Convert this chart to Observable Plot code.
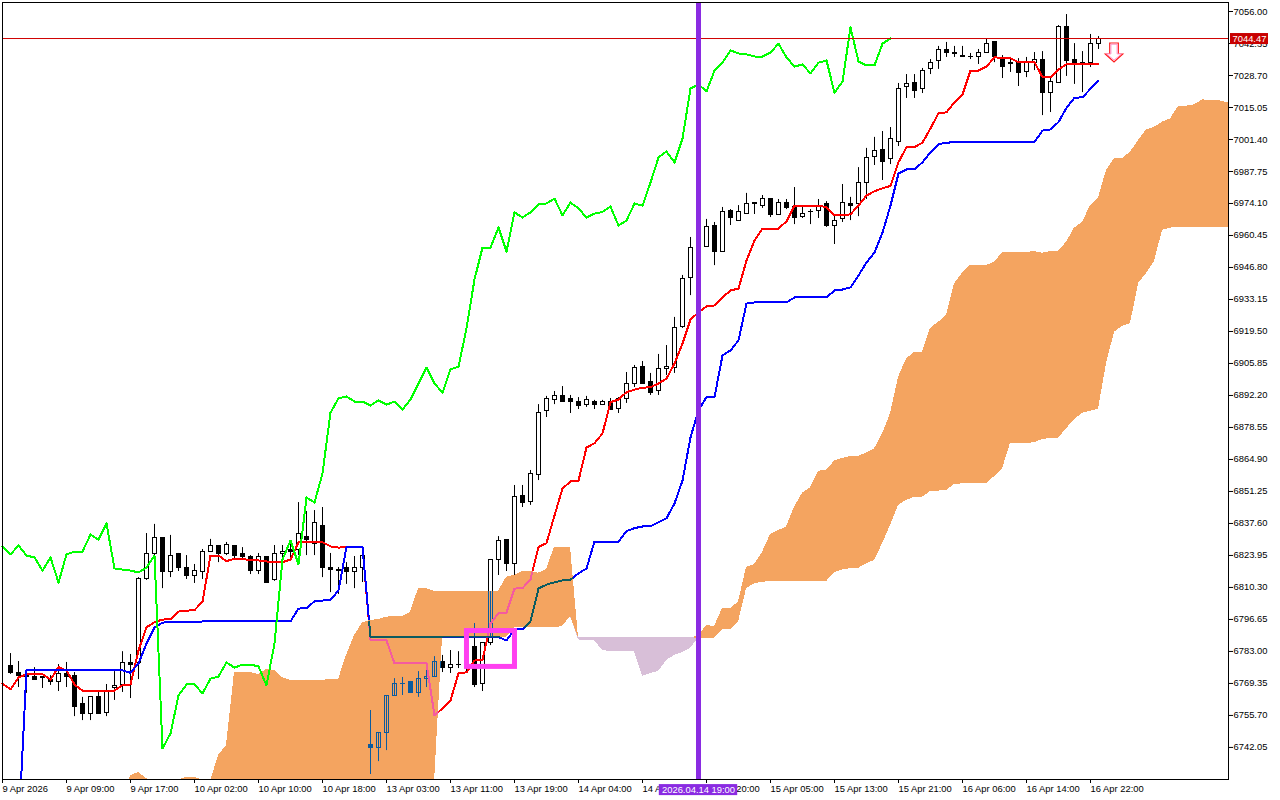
<!DOCTYPE html>
<html>
<head>
<meta charset="utf-8">
<script src="https://cdn.jsdelivr.net/npm/d3@7"></script>
<script src="https://cdn.jsdelivr.net/npm/@observablehq/plot@0.6"></script>
<style>
html,body{margin:0;padding:0;background:#fff}
svg{display:block}
</style>
</head>
<body>
<div id="chart"></div>
<script>
// Candles run from bar 1 to bar 137
const highs = [
6782.1,6778.7,6774.9,6776.1,6772.3,6772.7,6777.4,6778.3,6774.0,6763.4,
6763.4,6765.9,6768.9,6774.4,6782.9,6781.7,6814.5,6833.3,6837.2,6831.6,
6832.5,6824.8,6823.9,6820.1,6826.5,6830.8,6828.2,6829.5,6828.2,6827.3,
6823.9,6824.8,6823.5,6828.2,6828.2,6830.3,6846.5,6842.7,6843.1,6844.4,
6824.8,6818.8,6820.9,6823.5,6823.9,6757.8,6748.4,6764.2,6771.4,6771.9,
6770.2,6774.4,6777.9,6780.8,6781.3,6783.4,6782.9,6779.1,6794.9,6786.4,
6822.2,6832.0,6830.7,6853.8,6853.8,6860.2,6888.3,6891.8,6893.9,6896.0,
6892.2,6891.3,6891.8,6890.1,6890.1,6890.9,6891.3,6902.0,6905.0,6906.7,
6901.6,6909.7,6913.5,6925.5,6943.4,6959.6,6958.0,6967.3,6966.0,6972.4,
6971.5,6973.2,6978.4,6974.1,6977.5,6976.2,6975.8,6975.8,6980.9,6972.4,
6971.5,6975.8,6974.9,6969.0,6982.2,6976.7,6989.4,6997.6,7002.3,7004.8,
7006.5,7025.3,7029.1,7029.1,7031.7,7035.5,7041.1,7042.8,7041.1,7041.1,
7038.1,7039.8,7044.1,7042.8,7037.2,7036.4,7035.9,7036.4,7038.5,7038.9,
7027.8,7050.0,7054.7,7042.3,7038.9,7046.2,7045.3];
const opens = [
6777.0,6774.0,6772.7,6772.3,6771.9,6771.0,6769.8,6773.2,6772.7,6760.4,
6756.1,6763.4,6756.9,6767.2,6768.5,6777.9,6777.9,6813.7,6824.4,6831.2,
6817.1,6824.4,6818.4,6815.0,6817.1,6825.6,6827.8,6824.4,6827.8,6824.4,
6823.5,6817.5,6823.5,6813.3,6824.4,6826.1,6826.1,6832.0,6829.0,6836.7,
6818.4,6817.9,6818.4,6817.1,6818.8,6742.9,6742.0,6748.4,6764.2,6769.3,
6769.8,6765.1,6771.4,6772.3,6778.7,6776.1,6777.2,6777.4,6784.7,6769.3,
6786.4,6822.2,6830.7,6820.1,6849.1,6846.9,6858.1,6885.4,6890.1,6891.8,
6890.5,6889.6,6888.3,6889.6,6888.3,6889.2,6886.6,6890.9,6897.3,6904.5,
6898.1,6893.9,6903.7,6904.1,6921.2,6942.1,6955.1,6955.7,6964.3,6953.6,
6971.1,6966.8,6969.8,6973.7,6973.2,6975.8,6969.0,6974.5,6972.4,6968.5,
6970.3,6970.7,6973.7,6964.7,6967.3,6973.7,6973.7,6983.0,6994.1,6997.1,
6992.9,7000.5,7023.6,7025.7,7023.1,7031.3,7034.7,7039.4,7038.1,7037.2,
7036.6,7036.8,7038.5,7042.8,7035.9,7034.2,7034.2,7030.0,7034.2,7035.1,
7021.4,7025.7,7049.6,7035.1,7034.2,7034.2,7042.3];
const closes = [
6773.6,6772.7,6771.9,6771.0,6771.7,6769.8,6773.2,6771.9,6759.5,6756.1,
6763.4,6756.5,6766.3,6768.1,6777.9,6777.4,6813.7,6824.4,6831.2,6816.7,
6823.9,6818.8,6815.0,6817.5,6825.6,6827.8,6824.4,6828.2,6823.9,6823.1,
6817.5,6823.1,6812.4,6824.4,6825.6,6825.6,6832.9,6830.7,6837.6,6818.4,
6817.9,6817.5,6816.7,6818.8,6823.9,6741.6,6748.0,6764.2,6768.9,6768.9,
6765.1,6771.4,6772.3,6778.3,6776.1,6777.4,6777.4,6776.6,6768.5,6786.4,
6822.2,6830.3,6820.1,6848.7,6846.5,6858.9,6884.9,6890.9,6891.8,6889.6,
6889.6,6887.9,6890.1,6888.3,6889.6,6886.2,6890.5,6897.3,6904.1,6897.3,
6893.4,6903.3,6904.5,6920.8,6941.7,6955.3,6955.3,6963.9,6953.6,6970.3,
6968.1,6970.3,6973.7,6974.1,6976.2,6969.0,6974.5,6972.0,6968.1,6969.8,
6970.5,6972.8,6964.7,6966.8,6974.1,6973.2,6983.0,6993.7,6996.3,6991.6,
7001.8,7023.1,7024.9,7021.9,7030.8,7034.2,7039.4,7038.1,7037.7,7036.8,
7036.8,7038.5,7042.3,7036.4,7032.5,7033.4,7029.6,7034.2,7035.1,7021.4,
7026.1,7049.2,7034.7,7033.0,7033.0,7042.3,7044.47];
const lows = [
6773.2,6767.6,6765.1,6771.0,6767.2,6768.5,6765.9,6767.6,6755.2,6753.5,
6753.5,6756.5,6755.2,6762.1,6765.5,6762.9,6771.0,6813.3,6820.5,6809.8,
6814.5,6817.1,6813.7,6812.0,6813.7,6825.2,6820.9,6823.9,6822.6,6821.8,
6815.8,6815.8,6812.0,6812.9,6820.5,6821.8,6823.9,6823.9,6823.9,6814.5,
6808.1,6807.3,6811.6,6809.8,6812.4,6730.5,6736.0,6740.7,6763.8,6764.2,
6765.1,6763.4,6767.6,6771.9,6774.0,6773.6,6775.7,6774.0,6767.6,6765.9,
6785.5,6815.4,6817.1,6815.4,6844.4,6845.3,6855.9,6882.8,6888.3,6889.2,
6884.5,6886.2,6887.1,6886.2,6887.9,6885.8,6884.5,6888.8,6895.6,6896.9,
6892.2,6892.2,6900.7,6901.6,6920.8,6934.8,6953.0,6955.7,6947.6,6953.2,
6964.7,6966.8,6969.8,6969.4,6972.0,6968.1,6969.0,6971.5,6965.1,6967.7,
6965.1,6967.7,6963.9,6956.6,6966.0,6966.8,6968.5,6975.8,6990.3,6983.9,
6990.7,6998.4,7018.9,7018.9,7021.0,7029.1,7031.3,7036.4,7036.4,7036.4,
7035.5,7033.4,7038.1,7034.2,7027.4,7030.0,7024.0,7027.8,7030.8,7011.6,
7012.9,7025.3,7028.3,7024.9,7021.4,7032.1,7039.8];
// Tenkan-sen, bars 0 to 137
const tenkan = [
6769.3,6766.8,6771.9,6773.2,6773.3,6773.3,6771.0,6776.3,6774.9,6768.9,
6766.3,6766.3,6766.3,6766.3,6766.3,6768.6,6768.9,6783.4,6793.3,6795.5,
6796.6,6796.7,6800.0,6800.4,6800.6,6804.3,6823.9,6823.9,6821.5,6822.6,
6822.6,6821.8,6821.8,6821.4,6821.1,6821.1,6822.2,6829.5,6829.6,6829.6,
6829.6,6827.8,6827.3,6827.5,6827.5,6827.5,6788.0,6787.9,6787.7,6777.9,
6777.9,6777.9,6777.9,6777.9,6755.7,6758.7,6762.1,6773.7,6774.1,6779.1,
6779.4,6794.9,6799.3,6799.6,6809.8,6810.0,6813.7,6827.5,6829.2,6841.0,
6852.5,6855.5,6855.9,6870.0,6871.8,6876.0,6889.3,6890.5,6893.6,6894.7,
6895.5,6895.7,6897.3,6899.4,6905.8,6914.4,6924.6,6927.7,6930.2,6930.6,
6934.0,6937.0,6937.8,6949.8,6958.3,6963.4,6963.4,6963.4,6966.5,6973.2,
6973.2,6973.2,6973.2,6972.5,6969.0,6969.0,6969.5,6973.2,6977.5,6979.3,
6980.6,6981.6,6991.7,6998.1,6998.1,7000.1,7006.1,7012.6,7013.0,7017.3,
7020.6,7030.8,7030.8,7032.5,7036.5,7036.1,7036.1,7034.4,7034.4,7034.4,
7028.0,7028.0,7031.3,7033.5,7033.5,7033.5,7033.5,7033.5];
// Kijun-sen, bars 0 to 137
const kijun = [
null,null,6705.8,6774.9,6774.9,6774.9,6774.9,6774.9,6774.9,6774.9,
6774.9,6774.9,6774.9,6774.9,6774.9,6774.9,6773.9,6777.9,6786.4,6793.3,
6795.3,6795.5,6795.5,6795.5,6795.5,6795.8,6795.8,6795.8,6795.8,6795.8,
6795.8,6795.8,6795.8,6795.8,6795.8,6795.8,6795.8,6801.3,6801.4,6804.4,
6804.7,6805.0,6809.0,6827.5,6827.5,6827.5,6789.1,6789.1,6789.1,6789.1,
6789.1,6789.1,6789.1,6789.1,6789.1,6789.1,6789.1,6789.1,6789.1,6789.1,
6789.1,6789.1,6789.1,6787.7,6792.4,6792.4,6795.8,6809.8,6811.5,6812.5,
6813.3,6813.6,6816.3,6818.4,6829.9,6829.9,6829.9,6829.9,6834.3,6835.6,
6836.3,6836.4,6838.1,6839.8,6846.1,6855.9,6874.3,6885.8,6891.5,6891.5,
6909.3,6911.4,6915.7,6931.4,6931.9,6931.9,6931.9,6931.9,6931.9,6934.0,
6934.0,6934.0,6934.0,6934.0,6937.0,6937.4,6938.3,6943.4,6948.9,6953.2,
6961.7,6973.2,6986.9,6988.6,6988.7,6991.7,6996.0,6999.4,7000.0,7000.3,
7000.3,7000.3,7000.3,7000.3,7000.3,7000.3,7000.3,7000.3,7000.3,7000.3,
7005.2,7005.7,7008.8,7014.9,7019.2,7019.4,7023.0,7026.4];
// Senkou spans, bars 0 to 154
const senkouA = [
6719.4,6719.4,6719.4,6719.4,6719.4,6719.4,6719.4,6719.4,6719.4,6719.4,
6719.4,6719.4,6719.4,6719.4,6719.4,6719.4,6730.0,6731.4,6728.8,6726.7,
6726.7,6726.7,6728.2,6729.2,6729.2,6728.2,6727.5,6738.6,6742.9,6774.0,
6774.0,6774.0,6773.2,6775.3,6774.9,6771.9,6770.6,6770.6,6770.6,6770.6,
6770.6,6771.2,6771.0,6781.3,6789.8,6795.1,6796.2,6796.6,6797.6,6797.9,
6798.0,6799.7,6809.8,6809.8,6808.7,6808.6,6808.6,6808.6,6808.6,6808.6,
6808.6,6808.6,6808.6,6814.7,6815.4,6817.2,6817.2,6816.4,6817.9,6827.5,
6827.5,6827.5,6787.9,6787.7,6787.7,6783.4,6783.0,6783.0,6783.0,6783.0,
6772.3,6773.6,6774.4,6779.1,6781.3,6782.5,6784.3,6789.4,6794.1,6793.6,
6801.3,6801.3,6804.0,6818.8,6820.1,6825.3,6832.9,6834.6,6836.0,6844.5,
6850.5,6852.8,6859.9,6860.2,6864.2,6865.3,6866.2,6866.2,6867.6,6869.4,
6875.8,6884.4,6899.9,6907.8,6910.6,6910.6,6920.8,6923.4,6926.3,6939.8,
6944.4,6947.7,6947.7,6947.7,6949.0,6953.2,6953.2,6953.2,6953.2,6953.6,
6952.9,6953.6,6953.6,6957.6,6963.6,6966.0,6973.2,6976.5,6988.2,6993.3,
6993.3,6996.0,7000.9,7005.5,7006.6,7008.8,7010.2,7015.5,7015.6,7016.2,
7018.3,7018.0,7018.0,7017.2,7016.8];
const senkouB = [
6715.2,6715.2,6715.2,6715.2,6715.2,6715.2,6715.2,6715.2,6715.2,6715.2,
6715.2,6715.2,6715.2,6715.2,6715.2,6715.2,6715.2,6715.2,6715.2,6715.2,
6715.2,6715.2,6715.2,6715.2,6715.2,6715.2,6715.2,6715.2,6715.2,6715.2,
6715.2,6715.2,6715.2,6715.2,6715.2,6715.2,6715.2,6715.2,6715.2,6715.2,
6715.2,6715.2,6715.2,6715.2,6715.2,6715.2,6715.2,6715.2,6715.2,6715.2,
6715.2,6715.2,6715.2,6715.2,6727.1,6788.9,6788.9,6788.9,6788.9,6788.9,
6788.9,6788.9,6788.9,6788.9,6793.2,6793.2,6793.2,6793.2,6793.2,6793.2,
6793.6,6797.9,6788.9,6788.9,6788.9,6788.9,6788.9,6788.9,6788.9,6788.9,
6788.9,6788.9,6788.9,6788.9,6788.9,6788.9,6788.9,6788.6,6788.6,6788.6,
6792.2,6792.2,6795.5,6809.7,6811.9,6812.5,6812.8,6812.8,6812.8,6812.8,
6812.8,6812.8,6812.8,6812.8,6816.5,6817.8,6818.3,6818.4,6820.4,6821.8,
6828.9,6836.7,6845.3,6847.4,6848.8,6848.8,6851.2,6851.4,6851.7,6854.2,
6854.5,6854.5,6854.5,6854.5,6857.6,6860.9,6871.8,6871.8,6871.8,6872.0,
6873.4,6873.9,6873.9,6878.0,6881.9,6884.6,6885.5,6886.3,6905.7,6919.2,
6921.7,6922.9,6939.9,6944.2,6949.4,6962.6,6963.6,6964.0,6964.0,6964.0,
6964.0,6964.0,6964.0,6964.0,6964.0];
const priceTicks = [7056.00,7042.35,7028.70,7015.05,7001.40,6987.75,6974.10,6960.45,6946.80,6933.15,6919.50,6905.85,6892.20,6878.55,6864.90,6851.25,6837.60,6823.95,6810.30,6796.65,6783.00,6769.35,6755.70,6742.05];
const timeLabels = ["9 Apr 2026","9 Apr 09:00","9 Apr 17:00","10 Apr 02:00","10 Apr 10:00","10 Apr 18:00","13 Apr 03:00","13 Apr 11:00","13 Apr 19:00","14 Apr 04:00","14 Apr 12:00","14 Apr 20:00","15 Apr 05:00","15 Apr 13:00","15 Apr 21:00","16 Apr 06:00","16 Apr 14:00","16 Apr 22:00"];
const lastPrice = 7044.47;
const markerBar = 87;
const markerText = "2026.04.14 19:00";

const FONT = "'Liberation Sans', Arial, sans-serif";
const candles = highs.map((h,i)=>({k:i+1,high:h,open:opens[i],close:closes[i],low:lows[i]}));
const isUp = d=>d.close>=d.open;
const tenkanRows = tenkan.map((v,k)=>({k,v}));
const kijunRows = kijun.map((v,k)=>({k,v})).filter(d=>d.v!=null);
// The lagging span is the close plotted 26 bars back
const chikouRows = closes.slice(25).map((v,k)=>({k,v}));
const cloud = senkouA.map((a,k)=>({k,a,b:senkouB[k]}));
const tickBars = timeLabels.map((_,i)=>i*8);

const W = 2;
const bw = 0.25;
function candleMarks(stroke, upFill, downFill){
  return [
    Plot.ruleX(candles,{x:"k",y1:"low",y2:"high",stroke,strokeWidth:1}),
    Plot.rect(candles,{filter:isUp,x1:d=>d.k-bw,x2:d=>d.k+bw,y1:"open",y2:"close",fill:upFill,stroke,strokeWidth:1,dx:0.5,shapeRendering:"crispEdges"}),
    Plot.rect(candles,{filter:d=>!isUp(d),x1:d=>d.k-bw,x2:d=>d.k+bw,y1:"open",y2:"close",fill:downFill,stroke,strokeWidth:1,dx:0.5,shapeRendering:"crispEdges"})
  ];
}
const arrowShape = inset => ({draw(c){
  const w=4.3-inset, h=8.7-inset, hy=1.5-inset*0.1, top=-9.5+inset, tip=9.5-inset*1.6;
  c.moveTo(-w,top);c.lineTo(w,top);c.lineTo(w,hy);c.lineTo(h,hy);c.lineTo(0,tip);c.lineTo(-h,hy);c.lineTo(-w,hy);c.closePath();
}});

const underCloud = [
  ...candleMarks("black","white","black"),
  Plot.line(tenkanRows,{x:"k",y:"v",stroke:"#ff0000",strokeWidth:W,shapeRendering:"crispEdges"}),
  Plot.line(kijunRows,{x:"k",y:"v",stroke:"#0000ff",strokeWidth:W,clip:true,shapeRendering:"crispEdges"}),
  Plot.areaY(cloud,{x:"k",y1:"b",y2:d=>Math.max(d.a,d.b),fill:"#F4A460",clip:true,shapeRendering:"crispEdges"}),
  Plot.areaY(cloud,{x:"k",y1:"b",y2:d=>Math.min(d.a,d.b),fill:"#D8BFD8",clip:true,shapeRendering:"crispEdges"})
];
const insideCloud = [
  ...candleMarks("#0B5B9F","none","#0B5B9F"),
  Plot.line(tenkanRows,{x:"k",y:"v",stroke:"#F45B9F",strokeWidth:W,shapeRendering:"crispEdges"}),
  Plot.line(kijunRows,{x:"k",y:"v",stroke:"#0B5B60",strokeWidth:W,shapeRendering:"crispEdges"})
];

const plot = Plot.plot({
  width:1280,height:800,
  marginTop:2,marginBottom:21,marginLeft:2,marginRight:52,
  x:{type:"linear",domain:[0,153.25]},
  y:{type:"linear",domain:[6728.37,7059.84]},
  style:{fontFamily:FONT,fontSize:"9.4px",background:"white",color:"black"},
  marks:[
    ...underCloud,
    ...insideCloud,
    Plot.line(chikouRows,{x:"k",y:"v",stroke:"#00ff00",strokeWidth:W,shapeRendering:"crispEdges"}),
    Plot.rect([0],{x1:58.06,x2:64.06,y1:6776.4,y2:6791.7,stroke:"#ff40f0",strokeWidth:5,fill:"none"}),
    Plot.dot([0],{x:138.94,y:7038.5,symbol:arrowShape(0),fill:"white",stroke:"#ff1a1a",strokeWidth:1.2}),
    Plot.dot([0],{x:138.94,y:7038.5,symbol:arrowShape(1.2),fill:"white",stroke:"#ff90c8",strokeWidth:1}),
    Plot.ruleY([lastPrice],{stroke:"#d00000",strokeWidth:1}),
    Plot.ruleX([markerBar],{stroke:"#8A2BE2",strokeWidth:5}),
    Plot.frame({stroke:"black"}),
    Plot.axisY(priceTicks,{anchor:"right",tickSize:4,tickPadding:1,tickFormat:d=>d.toFixed(2),label:null,stroke:"black"}),
    Plot.axisX(tickBars,{anchor:"bottom",tickSize:4,tickPadding:2,textAnchor:"start",tickFormat:k=>timeLabels[k/8],label:null,stroke:"black"}),
    Plot.rect([0],{x1:153.5,x2:158.25,y1:7041.9,y2:7046.6,fill:"#c80000"}),
    Plot.text([lastPrice],{x:153.75,y:d=>d,text:d=>d.toFixed(2),textAnchor:"start",fill:"white",lineAnchor:"middle"}),
    Plot.rect([0],{x1:82.1,x2:91.9,y1:6721.5,y2:6726.2,fill:"#8A2BE2"}),
    Plot.text([markerText],{x:markerBar,y:6723.85,text:d=>d,fill:"white",lineAnchor:"middle"})
  ]
});

// Where a line or candle runs over the cloud the terminal inverts its colour,
// so the recoloured copies are shown only inside the cloud's own outline.
const sx = plot.scale("x"), sy = plot.scale("y");
const outline = d3.area().x(d=>sx.apply(d.k)).y0(d=>sy.apply(d.b)).y1(d=>sy.apply(d.a))(cloud);
const groups = [...plot.children].filter(n=>n.tagName.toLowerCase()==="g");
const defs = document.createElementNS("http://www.w3.org/2000/svg","defs");
const clipEl = document.createElementNS("http://www.w3.org/2000/svg","clipPath");
clipEl.setAttribute("id","cloudOutline");
const clipShape = document.createElementNS("http://www.w3.org/2000/svg","path");
clipShape.setAttribute("d",outline);
clipEl.append(clipShape);defs.append(clipEl);plot.prepend(defs);
groups.slice(underCloud.length, underCloud.length+insideCloud.length).forEach(g=>g.setAttribute("clip-path","url(#cloudOutline)"));
document.getElementById("chart").append(plot);
</script>
</body>
</html>
